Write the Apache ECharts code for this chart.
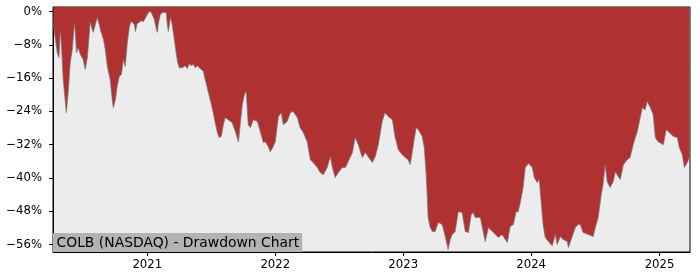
<!DOCTYPE html>
<html>
<head>
<meta charset="utf-8">
<script src="https://cdn.jsdelivr.net/npm/echarts@6/dist/echarts.min.js"></script>
<style>
html,body{margin:0;padding:0;background:#fff;}
#c{width:700px;height:280px;}
</style>
</head>
<body>
<div id="c"></div>
<script>
const titleText = 'COLB (NASDAQ) - Drawdown Chart';
const yTicks = [0, -8, -16, -24, -32, -40, -48, -56];
const xTickDates = ['2021-01-01', '2022-01-01', '2023-01-01', '2024-01-01', '2025-01-01'];
const xRange = ['2020-04-07', '2025-03-29'];
const yRange = [-57.8, 1.1];

const dates = ['2020-04-08','2020-04-14','2020-04-19','2020-04-24','2020-04-28','2020-05-01','2020-05-06','2020-05-15','2020-05-21','2020-05-26','2020-06-01','2020-06-07','2020-06-10','2020-06-13','2020-06-18','2020-06-24','2020-07-02','2020-07-08','2020-07-14','2020-07-17','2020-07-22','2020-07-28','2020-07-31','2020-08-06','2020-08-11','2020-08-17','2020-08-20','2020-08-29','2020-09-03','2020-09-09','2020-09-17','2020-09-23','2020-09-26','2020-10-02','2020-10-07','2020-10-13','2020-10-19','2020-10-25','2020-10-30','2020-11-05','2020-11-11','2020-11-16','2020-11-25','2020-11-28','2020-12-03','2020-12-15','2020-12-21','2020-12-29','2021-01-04','2021-01-10','2021-01-15','2021-01-21','2021-01-27','2021-01-30','2021-02-01','2021-02-07','2021-02-13','2021-02-18','2021-02-24','2021-02-27','2021-03-02','2021-03-08','2021-03-13','2021-03-19','2021-03-25','2021-03-28','2021-04-02','2021-04-11','2021-04-19','2021-04-25','2021-05-01','2021-05-06','2021-05-12','2021-05-18','2021-05-24','2021-05-29','2021-06-04','2021-06-10','2021-06-15','2021-06-21','2021-06-27','2021-07-03','2021-07-08','2021-07-14','2021-07-20','2021-07-25','2021-07-31','2021-08-06','2021-08-11','2021-08-20','2021-08-31','2021-09-09','2021-09-18','2021-09-23','2021-09-29','2021-10-05','2021-10-10','2021-10-16','2021-10-22','2021-10-30','2021-11-11','2021-11-19','2021-11-28','2021-12-04','2021-12-12','2021-12-18','2021-12-26','2022-01-01','2022-01-10','2022-01-18','2022-01-24','2022-02-04','2022-02-13','2022-02-21','2022-03-05','2022-03-13','2022-03-22','2022-04-02','2022-04-11','2022-04-19','2022-05-01','2022-05-09','2022-05-18','2022-05-29','2022-06-07','2022-06-13','2022-06-21','2022-06-30','2022-07-11','2022-07-20','2022-07-28','2022-08-09','2022-08-17','2022-08-26','2022-09-06','2022-09-15','2022-09-23','2022-10-05','2022-10-13','2022-10-22','2022-11-02','2022-11-10','2022-11-19','2022-12-01','2022-12-09','2022-12-18','2022-12-29','2023-01-07','2023-01-15','2023-01-21','2023-01-30','2023-02-07','2023-02-13','2023-02-24','2023-03-02','2023-03-08','2023-03-13','2023-03-19','2023-03-25','2023-04-02','2023-04-11','2023-04-22','2023-05-01','2023-05-09','2023-05-15','2023-05-21','2023-05-29','2023-06-07','2023-06-18','2023-06-27','2023-07-06','2023-07-14','2023-07-20','2023-07-25','2023-08-09','2023-08-17','2023-08-23','2023-09-01','2023-09-12','2023-09-21','2023-09-29','2023-10-10','2023-10-19','2023-10-25','2023-11-02','2023-11-11','2023-11-19','2023-11-25','2023-12-01','2023-12-09','2023-12-15','2023-12-24','2024-01-04','2024-01-10','2024-01-18','2024-01-24','2024-01-30','2024-02-04','2024-02-10','2024-02-19','2024-03-01','2024-03-10','2024-03-15','2024-03-24','2024-04-01','2024-04-13','2024-04-16','2024-04-27','2024-05-06','2024-05-14','2024-05-20','2024-05-28','2024-06-12','2024-06-26','2024-07-02','2024-07-10','2024-07-19','2024-07-24','2024-07-30','2024-08-05','2024-08-13','2024-08-22','2024-08-28','2024-09-02','2024-09-11','2024-09-20','2024-10-01','2024-10-09','2024-10-18','2024-10-24','2024-10-29','2024-11-07','2024-11-13','2024-11-21','2024-11-27','2024-12-06','2024-12-14','2024-12-20','2024-12-28','2025-01-12','2025-01-20','2025-01-29','2025-02-09','2025-02-21','2025-02-26','2025-03-07','2025-03-13','2025-03-21','2025-03-27'];

const drawdown = [-3.1,-6.7,-9.9,-11.1,-4.8,-7.9,-16.3,-24.3,-18.8,-12.3,-9.1,-2.9,-5.5,-9.9,-8.7,-10.3,-11.5,-13.9,-11.1,-7.9,-2.6,-4.3,-5.0,-3.1,-1.4,-3.1,-4.3,-6.7,-9.1,-13.2,-16.3,-21.2,-23.1,-21.2,-18.0,-15.6,-15.1,-11.5,-13.2,-7.5,-3.6,-2.4,-3.1,-4.8,-2.9,-2.2,-2.4,-1.2,-0.2,0,-0.7,-1.9,-4.3,-5.0,-3.1,-0.7,-0.2,0,-0.2,-3.1,-4.8,-1.4,-3.1,-6.7,-10.3,-12.0,-13.5,-13.5,-13.0,-13.7,-12.5,-13.0,-12.7,-13.5,-13.0,-13.5,-13.9,-14.4,-16.3,-18.3,-20.4,-22.4,-24.3,-26.9,-29.1,-30.3,-30.0,-27.2,-25.5,-26.0,-26.7,-28.8,-31.3,-27.2,-22.4,-20.0,-19.2,-27.2,-27.9,-26.0,-26.4,-28.8,-31.5,-31.3,-32.5,-33.7,-32.5,-31.3,-25.2,-24.3,-27.2,-26.4,-24.3,-24.0,-25.5,-27.9,-29.1,-31.3,-35.6,-36.3,-37.5,-38.7,-39.2,-37.5,-34.9,-37.5,-39.9,-38.7,-37.5,-37.5,-36.1,-33.9,-30.3,-32.0,-35.1,-33.9,-34.9,-36.3,-34.9,-32.0,-26.4,-24.3,-25.2,-26.0,-30.3,-33.2,-34.4,-35.1,-35.6,-36.8,-32.0,-27.9,-28.4,-30.0,-32.7,-39.9,-49.5,-51.9,-52.9,-52.9,-50.7,-51.2,-54.1,-57.2,-54.8,-53.6,-52.9,-48.1,-48.3,-52.9,-53.1,-48.8,-48.3,-49.5,-49.5,-52.9,-55.3,-51.9,-52.9,-53.6,-54.3,-53.6,-54.8,-55.5,-51.7,-51.2,-48.1,-48.1,-45.9,-42.3,-37.5,-36.5,-37.5,-39.9,-41.1,-40.4,-46.4,-51.2,-54.3,-55.3,-56.3,-53.6,-56.0,-54.1,-54.8,-55.3,-56.7,-54.1,-51.9,-51.2,-51.2,-53.1,-53.6,-54.1,-51.9,-49.5,-44.0,-41.6,-36.8,-40.9,-42.3,-40.9,-38.5,-39.2,-40.4,-36.8,-35.6,-35.1,-32.0,-30.3,-29.1,-25.5,-23.1,-23.6,-21.6,-23.1,-24.8,-30.3,-31.3,-32.0,-28.4,-29.1,-30.0,-30.3,-32.5,-34.4,-37.5,-36.3,-35.1];

const toTime = s => new Date(s + 'T00:00:00').getTime();
const seriesData = dates.map((d, i) => [toTime(d), drawdown[i]]);
const xTickValues = xTickDates.map(toTime);
const font = 'DejaVu Sans';

const chart = echarts.init(document.getElementById('c'), null, {renderer: 'canvas'});
chart.setOption({
  animation: false,
  backgroundColor: '#ffffff',
  title: {
    text: titleText,
    left: 53,
    top: 233,
    padding: [2, 3, 1, 3.5],
    backgroundColor: '#b3b3b3',
    textStyle: {fontFamily: font, fontSize: 13.9, fontWeight: 'normal', color: '#000', lineHeight: 16}
  },
  grid: {
    left: 53, right: 10, top: 7, bottom: 28,
    show: true, backgroundColor: '#ececec', borderColor: '#000', borderWidth: 1
  },
  xAxis: {
    type: 'value',
    min: toTime(xRange[0]),
    max: toTime(xRange[1]),
    splitLine: {show: false},
    axisLine: {show: true, onZero: false, lineStyle: {color: '#000', width: 1}},
    axisTick: {show: true, length: 4, lineStyle: {color: '#000'}, customValues: xTickValues},
    axisLabel: {
      customValues: xTickValues,
      margin: 7,
      color: '#000', fontFamily: font, fontSize: 11.7,
      formatter: v => String(new Date(v).getFullYear())
    }
  },
  yAxis: {
    type: 'value',
    min: yRange[0],
    max: yRange[1],
    splitLine: {show: false},
    axisLine: {show: true, lineStyle: {color: '#000', width: 1}},
    axisTick: {show: true, length: 4, lineStyle: {color: '#000'}, customValues: yTicks},
    axisLabel: {
      customValues: yTicks,
      margin: 11,
      color: '#000', fontFamily: font, fontSize: 11.7,
      formatter: v => (v < 0 ? '\u2212' + Math.abs(v) : String(v)) + '%'
    }
  },
  series: [{
    type: 'line',
    data: seriesData,
    showSymbol: false,
    symbol: 'none',
    lineStyle: {color: 'rgba(120,120,120,0.9)', width: 0.8},
    areaStyle: {color: '#b03131', opacity: 1, origin: 'end'}
  }]
});
</script>
</body>
</html>
